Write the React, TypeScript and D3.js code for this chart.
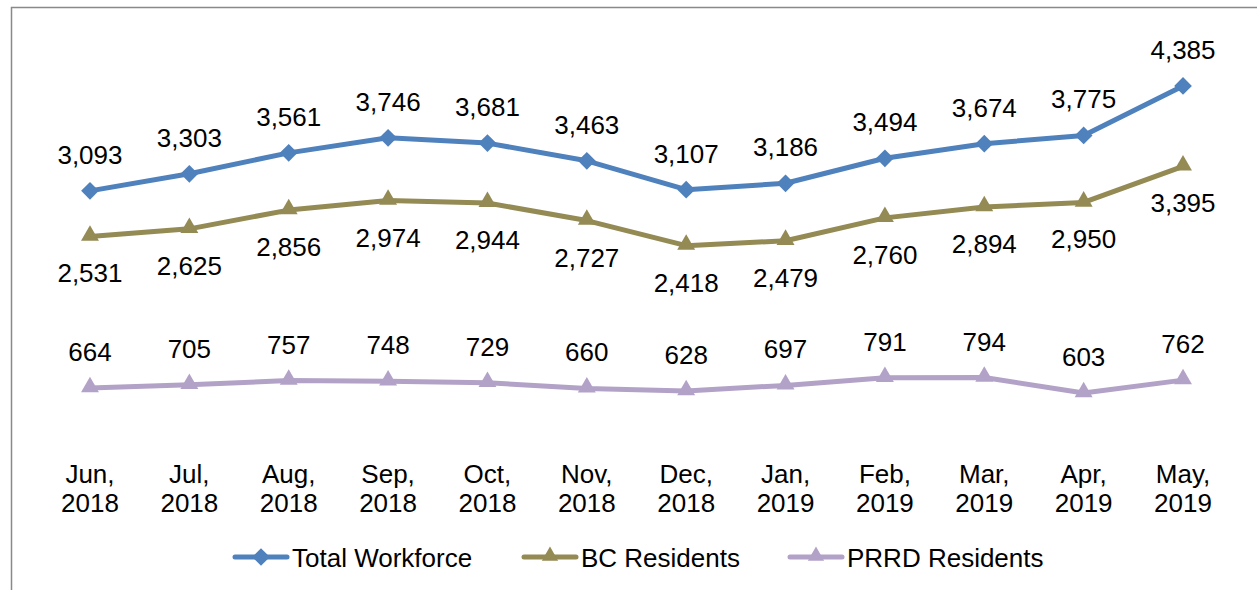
import React, { useRef, useEffect } from 'react';
import * as d3 from 'd3';

const months = ['Jun,', 'Jul,', 'Aug,', 'Sep,', 'Oct,', 'Nov,', 'Dec,', 'Jan,', 'Feb,', 'Mar,', 'Apr,', 'May,'];
const years = ['2018', '2018', '2018', '2018', '2018', '2018', '2018', '2019', '2019', '2019', '2019', '2019'];

const totalWorkforce = [3093, 3303, 3561, 3746, 3681, 3463, 3107, 3186, 3494, 3674, 3775, 4385];
const bcResidents = [2531, 2625, 2856, 2974, 2944, 2727, 2418, 2479, 2760, 2894, 2950, 3395];
const prrdResidents = [664, 705, 757, 748, 729, 660, 628, 697, 791, 794, 603, 762];

const W = 1257;
const H = 590;
const FONT = '"Liberation Sans", Arial, sans-serif';

const App: React.FC = () => {
  const svgRef = useRef<SVGSVGElement>(null);

  useEffect(() => {
    if (!svgRef.current) return;
    const svg = d3.select(svgRef.current);
    svg.selectAll('*').remove();

    // chart frame (only left and top edges fall inside the picture)
    svg.append('rect')
      .attr('x', 11.5).attr('y', 7.5)
      .attr('width', W + 20).attr('height', H + 20)
      .attr('fill', '#fff')
      .attr('stroke', '#898989')
      .attr('stroke-width', 1.5);

    const idx = months.map((_, i) => String(i));
    const x = d3.scalePoint<string>().domain(idx).range([40.3, 1232.7]).padding(0.5);
    const y = d3.scaleLinear().domain([0, 5000]).range([442, 36]);

    const series = [
      { label: 'Total Workforce', values: totalWorkforce, color: '#4F81BD', marker: 'diamond', labelPos: 'above' },
      { label: 'BC Residents', values: bcResidents, color: '#948A54', marker: 'triangle', labelPos: 'below' },
      { label: 'PRRD Residents', values: prrdResidents, color: '#B3A2C7', marker: 'triangle', labelPos: 'above' },
    ];

    const diamond = d3.symbol().type(d3.symbolDiamond2).size(200)();
    const triangle = d3.symbol().type(d3.symbolTriangle2).size(230)();
    const legendTriangle = d3.symbol().type(d3.symbolTriangle2).size(190)();

    const line = d3.line<number>()
      .x((_, i) => x(String(i))!)
      .y(d => y(d));

    const g = svg.append('g');

    series.forEach(s => {
      g.append('path')
        .datum(s.values)
        .attr('fill', 'none')
        .attr('stroke', s.color)
        .attr('stroke-width', 5)
        .attr('stroke-linejoin', 'round')
        .attr('d', line);

      g.selectAll(null)
        .data(s.values)
        .enter()
        .append('path')
        .attr('d', s.marker === 'diamond' ? diamond : triangle)
        .attr('transform', (d, i) => `translate(${x(String(i))},${y(d) + (s.marker === 'triangle' ? -1 : 0)})`)
        .attr('fill', s.color);

      g.selectAll(null)
        .data(s.values)
        .enter()
        .append('text')
        .attr('x', (_, i) => x(String(i))!)
        .attr('y', d => (s.labelPos === 'above' ? y(d) - 27 : y(d) + 46))
        .attr('text-anchor', 'middle')
        .style('font-family', FONT)
        .style('font-size', '26px')
        .style('fill', '#000')
        .text(d => d3.format(',')(d));
    });

    // category labels
    const cats = svg.append('g');
    months.forEach((m, i) => {
      const t = cats.append('text')
        .attr('x', x(String(i))!)
        .attr('y', 483)
        .attr('text-anchor', 'middle')
        .style('font-family', FONT)
        .style('font-size', '26px')
        .style('fill', '#000');
      t.append('tspan').attr('x', x(String(i))!).text(m);
      t.append('tspan').attr('x', x(String(i))!).attr('dy', 29).text(years[i]);
    });

    // legend
    const legendX = [233, 522, 788];
    const legend = svg.append('g');
    series.forEach((s, i) => {
      const lg = legend.append('g').attr('transform', `translate(${legendX[i]},557)`);
      lg.append('line')
        .attr('x1', 2).attr('x2', 54)
        .attr('y1', 0).attr('y2', 0)
        .attr('stroke', s.color)
        .attr('stroke-width', 5)
        .attr('stroke-linecap', 'round');
      lg.append('path')
        .attr('d', s.marker === 'diamond' ? diamond : legendTriangle)
        .attr('transform', `translate(28,${s.marker === 'triangle' ? -1 : 0})`)
        .attr('fill', s.color);
      lg.append('text')
        .attr('x', 59)
        .attr('y', 9.5)
        .style('font-family', FONT)
        .style('font-size', '26px')
        .style('fill', '#000')
        .text(s.label);
    });
  }, []);

  return (
    <div style={{ position: 'absolute', left: 0, top: 0 }}>
      <svg ref={svgRef} width={W} height={H} style={{ display: 'block', background: '#fff' }} />
    </div>
  );
};

export default App;
